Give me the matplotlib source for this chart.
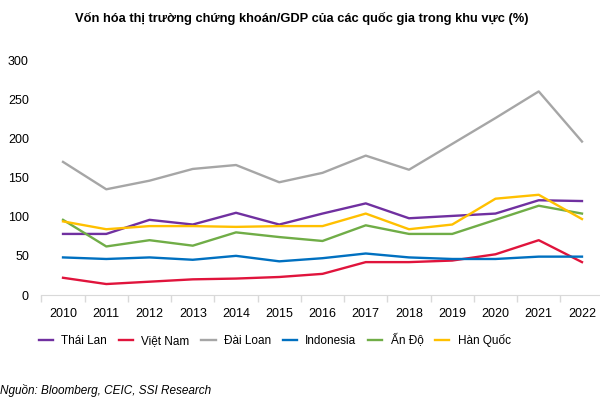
import matplotlib
matplotlib.use("Agg")
import matplotlib.pyplot as plt
import numpy as np

plt.rcParams['font.family'] = ['Liberation Sans', 'DejaVu Sans']

years = [str(y) for y in range(2010, 2023)]
thai_lan = [78, 78, 96, 90, 105, 90, 104, 117, 98, 101, 104, 121, 120]
viet_nam = [22, 14, 17, 20, 21, 23, 27, 42, 42, 44, 52, 70, 42]
dai_loan = [170, 135, 146, 161, 166, 144, 156, 178, 160, 193, 226, 260, 196]
indonesia = [48, 46, 48, 45, 50, 43, 47, 53, 48, 46, 46, 49, 49]
an_do = [96, 62, 70, 63, 80, 74, 69, 89, 78, 78, 96, 114, 104]
han_quoc = [94, 84, 88, 88, 87, 88, 88, 104, 84, 90, 123, 128, 97]

series = [
    ("Thái Lan", thai_lan, "#7030A0"),
    ("Việt Nam", viet_nam, "#E0143C"),
    ("Đài Loan", dai_loan, "#A6A6A6"),
    ("Indonesia", indonesia, "#0070C0"),
    ("Ấn Độ", an_do, "#70AD47"),
    ("Hàn Quốc", han_quoc, "#FFC000"),
]

fig = plt.figure(figsize=(6, 4.05), dpi=100)
ax = fig.add_axes([0.069, 0.2716, 0.937, 0.58])

x = np.arange(len(years))
for name, vals, col in series:
    ax.plot(x, vals, color=col, lw=1.7, label=name)

ax.set_xlim(-0.5, len(years) - 0.5)
ax.set_ylim(0, 300)
ax.set_yticks(range(0, 301, 50))
ax.set_xticks(x)
ax.set_xticklabels(years)
ax.set_xticks(np.arange(-0.5, len(years), 1), minor=True)
ax.tick_params(axis='x', which='major', length=0, labelsize=9, pad=9, colors='#000000')
ax.tick_params(axis='x', which='minor', length=5, color='#D9D9D9', width=1)
ax.tick_params(axis='y', length=0, labelsize=9, pad=9)
for s in ['top', 'right', 'left']:
    ax.spines[s].set_visible(False)
ax.spines['bottom'].set_color('#D9D9D9')

fig.text(0.125, 0.955, "Vốn hóa thị trường chứng khoán/GDP của các quốc gia trong khu vực (%)",
         fontsize=9.3, fontweight='bold', ha='left', va='center')

fig.legend(loc='center', bbox_to_anchor=(0.458, 0.16), ncol=6, frameon=False,
           fontsize=8.5, handlelength=1.2, columnspacing=1.0, handletextpad=0.7)

fig.text(0.0, 0.037, "Nguồn: Bloomberg, CEIC, SSI Research", fontsize=8.5,
         style='italic', ha='left', va='center')

fig.savefig("out.png", dpi=100)
